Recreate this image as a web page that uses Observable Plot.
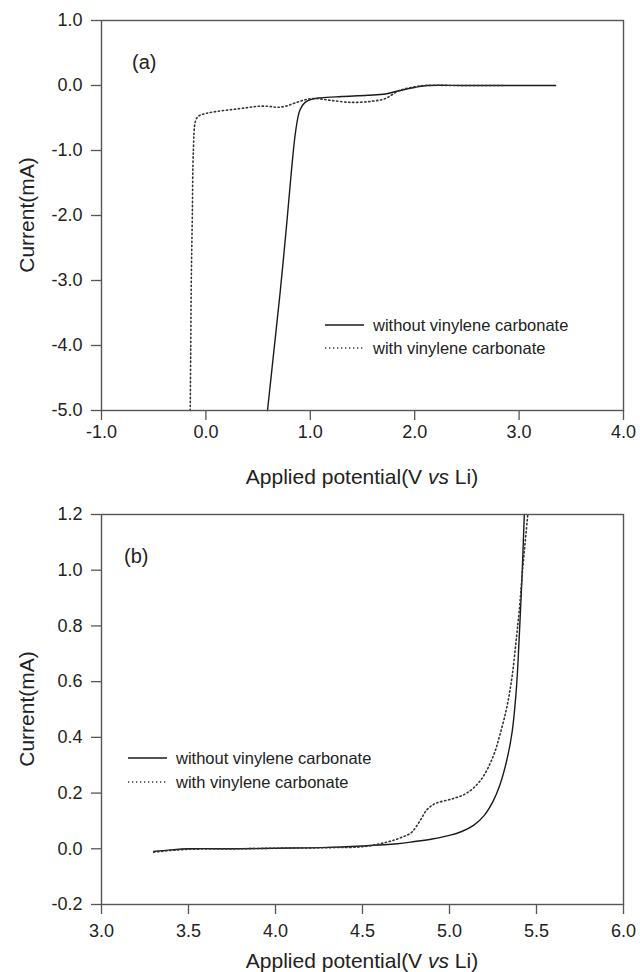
<!DOCTYPE html>
<html><head><meta charset="utf-8">
<script src="https://cdn.jsdelivr.net/npm/d3@7"></script>
<script src="https://cdn.jsdelivr.net/npm/@observablehq/plot@0.6"></script>
<style>
body{margin:0;background:#fff;}
#chart{width:640px;height:972px;}
#chart svg{display:block;}
</style></head><body><div id="chart"></div>
<script>
// ---- series names ----
const seriesNames = ["without vinylene carbonate", "with vinylene carbonate"];
const axisTitleX = ["Applied potential(V ", "vs", " Li)"];
const axisTitleY = "Current(mA)";
const panelLabels = ["(a)", "(b)"];

// ---- panel (a) ----
const aXTicks = [-1, 0, 1, 2, 3, 4];
const aYTicks = [1, 0, -1, -2, -3, -4, -5];
const aWithoutX = [0.59, 0.65, 0.71, 0.77, 0.82, 0.86, 0.90, 0.95, 1.02, 1.10, 1.30, 1.55, 1.72, 1.85, 2.00, 2.12, 2.50, 3.00, 3.35];
const aWithoutY = [-5.0, -4.1, -3.2, -2.2, -1.3, -0.7, -0.38, -0.26, -0.21, -0.19, -0.17, -0.15, -0.13, -0.08, -0.03, 0, 0, 0, 0];
const aWithX = [-0.15, -0.145, -0.14, -0.13, -0.12, -0.10, -0.07, 0.0, 0.1, 0.25, 0.4, 0.5, 0.6, 0.68, 0.76, 0.85, 0.95, 1.05, 1.2, 1.4, 1.6, 1.72, 1.85, 2.0, 2.1, 2.4, 2.85];
const aWithY = [-5.0, -4.0, -3.0, -2.0, -1.0, -0.55, -0.47, -0.43, -0.40, -0.37, -0.34, -0.32, -0.32, -0.335, -0.32, -0.27, -0.22, -0.20, -0.23, -0.26, -0.24, -0.20, -0.08, -0.02, 0, 0, 0];

// ---- panel (b) ----
const bXTicks = [3.0, 3.5, 4.0, 4.5, 5.0, 5.5, 6.0];
const bYTicks = [-0.2, 0, 0.2, 0.4, 0.6, 0.8, 1.0, 1.2];
const bWithoutX = [3.3, 3.4, 3.5, 3.8, 4.0, 4.26, 4.5, 4.7, 4.8, 4.9, 5.0, 5.07, 5.14, 5.2, 5.25, 5.29, 5.33, 5.36, 5.385, 5.40, 5.415, 5.43];
const bWithoutY = [-0.01, -0.004, 0, 0, 0.002, 0.004, 0.01, 0.018, 0.026, 0.035, 0.048, 0.062, 0.085, 0.12, 0.17, 0.23, 0.32, 0.42, 0.58, 0.75, 0.95, 1.2];
const bWithX = [3.3, 3.4, 3.5, 3.8, 4.0, 4.3, 4.51, 4.64, 4.72, 4.78, 4.83, 4.87, 4.92, 5.02, 5.10, 5.18, 5.25, 5.29, 5.33, 5.36, 5.385, 5.40, 5.42, 5.45];
const bWithY = [-0.012, -0.006, -0.002, 0, 0.002, 0.004, 0.008, 0.024, 0.04, 0.058, 0.1, 0.14, 0.163, 0.18, 0.2, 0.247, 0.33, 0.41, 0.51, 0.62, 0.76, 0.85, 1.0, 1.2];

const toRows = (xs, ys) => xs.map((x, i) => ({x, y: ys[i]}));
const FONT = "'Liberation Sans', Arial, sans-serif";
const INK = "#222";
const AXIS = "#555";
const DASH = "1.3 2.7";

function panel(o) {
  const svg = Plot.plot({
    width: 640, height: o.height,
    marginLeft: 101, marginRight: 17, marginTop: o.marginTop, marginBottom: o.marginBottom,
    style: {fontFamily: FONT, fontSize: "18px", color: INK, background: "#fff", overflow: "visible"},
    x: {domain: o.xDomain},
    y: {domain: o.yDomain},
    marks: [
      Plot.axisX(o.xTicks, {tickSize: 10, tickPadding: o.xPad, tickFormat: d => d.toFixed(1), label: null, stroke: AXIS, fill: INK, strokeWidth: 1.3}),
      Plot.axisY(o.yTicks, {tickSize: 10, tickPadding: 9, tickFormat: d => d.toFixed(1), label: null, stroke: AXIS, fill: INK, strokeWidth: 1.3}),
      Plot.line(o.without, {x: "x", y: "y", curve: "catmull-rom", stroke: "#1a1a1a", strokeWidth: 1.4}),
      Plot.line(o.with, {x: "x", y: "y", curve: "catmull-rom", stroke: "#333", strokeWidth: 1.6, strokeDasharray: DASH}),
      Plot.frame({stroke: AXIS, strokeWidth: 1.4})
    ]
  });
  const s = d3.select(svg);
  const top = o.marginTop, bottom = o.height - o.marginBottom;
  // y title
  s.append("text").attr("transform", `translate(${o.yTitleX},${(top + bottom) / 2}) rotate(-90)`)
    .attr("text-anchor", "middle").attr("dy", "0.35em")
    .style("font-size", "21px").attr("fill", INK).text(axisTitleY);
  // x title with italic vs
  const xt = s.append("text").attr("x", (101 + 623) / 2).attr("y", o.xTitleY)
    .attr("text-anchor", "middle").attr("dy", "0.35em").style("font-size", "21px").attr("fill", INK);
  xt.append("tspan").text(axisTitleX[0]);
  xt.append("tspan").style("font-style", "italic").text(axisTitleX[1]);
  xt.append("tspan").text(axisTitleX[2]);
  // panel label
  s.append("text").attr("x", o.labelX).attr("y", o.labelY).attr("dy", "0.35em")
    .attr("text-anchor", "start")
    .style("font-size", "20px").attr("fill", INK).text(o.label);
  // legend
  const lg = s.append("g").attr("text-anchor", "start");
  [0, 1].forEach(i => {
    const y = o.legY + i * o.legGap;
    lg.append("line").attr("x1", o.legX).attr("x2", o.legX + 39).attr("y1", y).attr("y2", y)
      .attr("stroke", i === 0 ? "#1a1a1a" : "#333").attr("stroke-width", i === 0 ? 1.4 : 1.6)
      .attr("stroke-dasharray", i === 0 ? null : DASH);
    lg.append("text").attr("x", o.legX + 48).attr("y", y).attr("dy", "0.35em")
      .attr("text-anchor", "start")
      .style("font-size", "16.5px").attr("fill", INK).text(seriesNames[i]);
  });
  return svg;
}

const chart = document.getElementById("chart");
chart.appendChild(panel({
  height: 490, marginTop: 20, marginBottom: 80,
  xDomain: [-1, 4], yDomain: [-5, 1], xTicks: aXTicks, yTicks: aYTicks, xPad: 5,
  without: toRows(aWithoutX, aWithoutY), with: toRows(aWithX, aWithY),
  yTitleX: 27, xTitleY: 477, label: panelLabels[0], labelX: 132, labelY: 62,
  legX: 325, legY: 325, legGap: 23
}));
chart.appendChild(panel({
  height: 482, marginTop: 24, marginBottom: 68,
  xDomain: [3, 6], yDomain: [-0.2, 1.2], xTicks: bXTicks, yTicks: bYTicks, xPad: 10,
  without: toRows(bWithoutX, bWithoutY), with: toRows(bWithX, bWithY),
  yTitleX: 27, xTitleY: 471, label: panelLabels[1], labelX: 124, labelY: 66,
  legX: 128, legY: 268, legGap: 24
}));
</script>
</body></html>
